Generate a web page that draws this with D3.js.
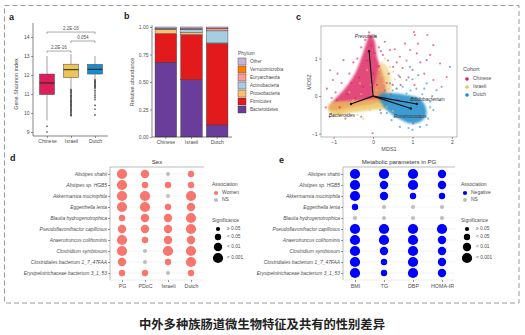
<!DOCTYPE html>
<html><head><meta charset="utf-8">
<script src="https://cdn.jsdelivr.net/npm/d3@7"></script>
<style>body{margin:0;background:#fff}svg{display:block;font-family:"Liberation Sans",Arial,sans-serif}</style>
</head><body><svg id="c" width="525" height="335"></svg>
<script>
// ---------------- DATA ----------------
const cohorts = ["Chinese","Israeli","Dutch"];
const cohortColors = ["#DB1F5B","#EDC45A","#1A8CCB"];
// panel a
const shannonTicks = [9,10,11,12,13,14];
const shannonQ1 = [10.97,11.86,12.05];
const shannonMedian = [11.58,12.28,12.30];
const shannonQ3 = [12.05,12.57,12.56];
const shannonWhiskerLow = [9.6,11.3,11.78];
const shannonWhiskerHigh = [13.0,13.1,13.0];
const outChinese = [9.3,9.0];
const outIsraeli = [11.25,11.2,11.15,11.1,11.05,11.0,10.95,10.9,10.85,10.8,10.75,10.7,10.65,10.6,10.55,10.5,10.45,10.4,10.35,10.3,10.25,10.2,10.15,10.1,10.05,10.0,9.95,9.9,9.85];
const outDutch = [11.75,11.7,11.65,11.6,11.55,11.5,11.45,11.4,11.35,11.3,11.2,11.1,11.0,10.9,10.8,10.7,10.4,10.2,9.9];
const bracketFrom = ["Chinese","Israeli","Chinese"];
const bracketTo = ["Israeli","Dutch","Dutch"];
const bracketLevel = [13.26,13.79,14.26];
const bracketLabel = ["2.2E-16","0.054","2.2E-16"];
// panel b
const phyla = ["Bacteroidetes","Firmicutes","Proteobacteria","Actinobacteria","Euryarchaeota","Verrucomicrobia","Other"];
const phylumColors = ["#6A3D9A","#E31A1C","#FDBF6F","#A6CEE3","#FB9A99","#FF7F00","#CAB2D6"];
const abundChinese = [0.68,0.26,0.035,0.006,0.003,0.002,0.014];
const abundIsraeli = [0.52,0.41,0.018,0.027,0.006,0.004,0.015];
const abundDutch = [0.11,0.74,0.005,0.11,0.02,0.004,0.011];
const abundTicks = [0,0.25,0.5,0.75,1];
// panel c
const mdsXTicks = [-1,0,1,2];
const mdsYTicks = [-1,0,1];
const cloudChinese = [[-0.08,1.64],[0.03,1.5],[0.1,1.05],[0.24,0.6],[0.33,0.2],[0.3,-0.1],[0.0,-0.2],[-0.5,-0.28],[-1.0,-0.38],[-1.12,-0.32],[-1.0,-0.12],[-0.72,0.2],[-0.46,0.6],[-0.27,1.1],[-0.16,1.45]];
const cloudIsraeli = [[-1.1,-0.2],[-0.7,-0.13],[-0.3,-0.1],[0.1,-0.07],[0.35,-0.13],[0.36,-0.3],[0.0,-0.36],[-0.5,-0.43],[-0.95,-0.5],[-1.13,-0.4]];
const cloudIsraeliMid = [[0.0,0.0],[0.08,0.45],[0.2,0.9],[0.35,0.8],[0.46,0.4],[0.4,0.0]];
const cloudDutch = [[0.15,0.03],[0.45,0.08],[0.8,0.04],[1.15,-0.05],[1.32,-0.25],[1.35,-0.5],[1.2,-0.68],[0.95,-0.73],[0.7,-0.62],[0.45,-0.46],[0.25,-0.25]];
const ptsChinese = [[1.04,1.71],[1.06,1.63],[1.38,1.63],[1.14,1.4],[1.53,1.36],[1.7,0.87],[1.11,1.14],[1.36,0.96],[-1.09,0.69],[-1.17,0.2],[-1.02,0.43],[-0.01,-0.99],[0.81,1.4],[0.94,1.23],[0.68,1.05],[1.53,0.43],[1.87,0.51],[1.74,0.25],[0.43,1.23],[0.51,0.78],[-0.75,0.96],[-0.92,-0.11],[1.19,-0.55],[1.02,-0.73],[-0.3,1.3],[-0.4,1.0],[0.15,1.3],[0.25,1.1],[-0.6,0.6],[-0.8,0.35],[0.4,0.6],[0.5,0.3],[-0.2,1.5],[0.05,1.6],[-0.95,0.1],[-1.2,-0.3],[-1.1,-0.55],[-0.7,-0.6],[-0.3,-0.55],[0.6,0.9],[0.3,1.45],[0.55,1.25],[0.75,0.75],[1.2,0.9],[0.2,-0.45],[-0.5,0.9],[0.45,0.05],[0.62,-0.1],[0.9,0.5],[1.05,0.3],[0.7,0.3],[-0.55,0.35],[-0.85,-0.3],[0.35,0.35],[0.15,0.8],[-0.1,1.7],[-0.35,0.5],[-0.65,0.05],[0.2,1.2],[-0.15,0.95],[0.0,0.6],[-0.25,0.25],[0.1,0.3],[-0.45,-0.05],[0.85,0.95],[1.0,0.7],[1.3,0.6],[1.45,1.1],[0.65,0.55],[-0.9,0.6],[-1.05,-0.05],[0.05,1.15],[-0.05,1.35],[0.38,0.95]];
const ptsIsraeli = [[0.43,0.78],[0.51,0.65],[0.26,0.34],[0.09,0.16],[-0.33,0.34],[-0.5,-0.11],[-0.08,-0.37],[-0.25,-0.6],[-0.75,-0.37],[0.35,-0.28],[0.6,0.2],[0.3,1.0],[-0.15,0.7],[-0.6,0.1],[-1.0,-0.55],[-0.4,-0.5],[0.5,-0.4],[0.7,0.5],[0.2,0.55],[-0.05,0.3],[0.15,0.7],[0.32,0.5],[0.55,0.45],[-0.2,-0.3],[-0.85,-0.45],[0.1,-0.25],[0.4,0.2],[-0.3,0.05]];
const ptsDutch = [[1.15,0.56],[0.85,0.43],[1.36,0.34],[1.61,0.16],[1.53,-0.37],[1.36,-0.77],[1.19,-0.82],[0.68,-0.82],[0.47,-0.64],[0.18,-0.37],[0.94,0.78],[0.68,0.51],[0.43,0.34],[0.85,0.07],[1.95,0.78],[1.7,-0.11],[1.45,-0.3],[1.4,-0.6],[1.0,-0.9],[0.6,0.2],[1.1,0.2],[1.25,0.05],[0.3,0.15],[0.55,-0.55],[0.9,-0.85],[1.5,0.0],[0.75,0.25],[1.0,0.45],[1.3,0.2],[0.5,0.15],[0.95,0.15],[1.45,-0.15],[0.35,-0.45]];
const loadNames = ["Prevotella","Bacteroides","Bifidobacterium","Ruminococcus"];
const loadX = [-0.1,-0.56,1.11,0.96];
const loadY = [1.2,-0.21,-0.21,-0.33];
const loadLabelX = [-0.18,-0.79,1.38,0.94];
const loadLabelY = [1.58,-0.51,-0.09,-0.56];
// panels d / e
const species = ["Alistipes shahii","Alistipes sp. HGB5","Akkermansia muciniphila","Eggerthella lenta","Blautia hydrogenotrophica","Pseudoflavonifractor capillosus","Anaerotruncus colihominis","Clostridium symbiosum","Clostridiales bacterium 1_7_47FAA","Erysipelotrichaceae bacterium 3_1_53"];
const sexCols = ["PG","PDoC","Israeli","Dutch"];
// significance level: 0 = NS, 2 = <0.05, 3 = <0.01, 4 = <0.001
const sexPG = [4,4,4,4,2,3,4,4,3,2];
const sexPDoC = [3,2,4,4,3,3,2,0,0,2];
const sexIsraeli = [0,2,0,2,3,3,3,4,2,0];
const sexDutch = [2,2,4,3,4,4,3,4,4,2];
const metCols = ["BMI","TG","DBP","HOMA-IR"];
const metBMI = [4,4,4,2,0,4,4,4,4,4];
const metTG = [4,3,3,0,0,4,4,3,2,2];
const metDBP = [4,4,2,0,0,4,4,4,4,4];
const metHOMA = [3,3,2,0,0,4,3,3,3,3];
const sigLabels = ["\u2265 0.05","< 0.05","< 0.01","< 0.001"];
const sigLevels = [1,2,3,4];

// ---------------- DRAW ----------------
const svg = d3.select("#c");
const TXT = "#4d4d4d";
const FF = "Liberation Sans, Arial, sans-serif";
function styleAxis(g, fs){
  g.selectAll("text").attr("font-size",fs).attr("fill",TXT).attr("font-family",FF);
  g.selectAll(".tick line").attr("stroke","#333").attr("stroke-width",0.5);
  g.select(".domain").remove();
}
function txt(x,y,s,fs,opt={}){
  return svg.append("text").attr("x",x).attr("y",y).text(s).attr("font-size",fs)
    .attr("fill",opt.fill||TXT).attr("text-anchor",opt.anchor||"start")
    .attr("font-style",opt.italic?"italic":"normal").attr("font-weight",opt.bold?"bold":"normal")
    .attr("dominant-baseline",opt.base||"auto");
}
// dashed frame
svg.append("rect").attr("x",4.5).attr("y",5.5).attr("width",514.5).attr("height",297.5)
  .attr("fill","none").attr("stroke","#9a9a9a").attr("stroke-width",1).attr("stroke-dasharray","5,3");
// panel letters
[["a",9,20],["b",124,19],["c",296,20],["d",10,161],["e",279,163]].forEach(d=>txt(d[1],d[2],d[0],9,{fill:"#222",bold:true}));

// ---- panel a ----
const yA = d3.scaleLinear().domain([9,14]).range([132,37]);
const xA = d3.scalePoint().domain(cohorts).range([47,95]);
const axA = svg.append("g").attr("transform","translate(33,0)").call(d3.axisLeft(yA).tickValues(shannonTicks).tickFormat(d3.format("d")).tickSize(2).tickPadding(1.5));
styleAxis(axA,5);
const axAx = svg.append("g").attr("transform","translate(0,136)").call(d3.axisBottom(xA).tickSize(2).tickPadding(1.5));
styleAxis(axAx,5);
svg.append("line").attr("x1",33).attr("x2",33).attr("y1",23).attr("y2",136).attr("stroke","#333").attr("stroke-width",0.6);
svg.append("line").attr("x1",33).attr("x2",108).attr("y1",136).attr("y2",136).attr("stroke","#333").attr("stroke-width",0.6);
svg.append("text").attr("transform","translate(18,84) rotate(-90)").attr("text-anchor","middle").attr("font-size",5.5).attr("fill",TXT).text("Gene Shannon index");
const outs = [outChinese,outIsraeli,outDutch];
cohorts.forEach((c,i)=>{
  const cx = xA(c), w = 15;
  svg.append("line").attr("x1",cx).attr("x2",cx).attr("y1",yA(shannonWhiskerHigh[i])).attr("y2",yA(shannonWhiskerLow[i])).attr("stroke","#444").attr("stroke-width",0.5);
  svg.append("rect").attr("x",cx-w/2).attr("width",w).attr("y",yA(shannonQ3[i])).attr("height",yA(shannonQ1[i])-yA(shannonQ3[i]))
    .attr("fill",cohortColors[i]).attr("stroke","#444").attr("stroke-width",0.5);
  svg.append("line").attr("x1",cx-w/2).attr("x2",cx+w/2).attr("y1",yA(shannonMedian[i])).attr("y2",yA(shannonMedian[i])).attr("stroke","#222").attr("stroke-width",1);
  svg.selectAll(null).data(outs[i]).enter().append("circle").attr("cx",cx).attr("cy",d=>yA(d)).attr("r",0.8).attr("fill","#333");
});
bracketLevel.forEach((lv,i)=>{
  const x1 = xA(bracketFrom[i]), x2 = xA(bracketTo[i]), y = yA(lv);
  svg.append("path").attr("d",`M${x1},${y+2}V${y}H${x2}V${y+2}`).attr("fill","none").attr("stroke","#555").attr("stroke-width",0.5);
  txt((x1+x2)/2,y-2,bracketLabel[i],4.5,{anchor:"middle"});
});

// ---- panel b ----
const yB = d3.scaleLinear().domain([0,1]).range([137,27]);
const xB = d3.scaleBand().domain(cohorts).range([153,230]).paddingInner(0.16).paddingOuter(0.08);
const abundRows = [abundChinese,abundIsraeli,abundDutch].map((arr,i)=>{const o={cohort:cohorts[i]}; phyla.forEach((p,j)=>o[p]=arr[j]); return o;});
const stackB = d3.stack().keys(phyla)(abundRows);
stackB.forEach((layer,k)=>{
  svg.selectAll(null).data(layer).enter().append("rect")
    .attr("x",d=>xB(d.data.cohort)).attr("width",xB.bandwidth())
    .attr("y",d=>yB(d[1])).attr("height",d=>yB(d[0])-yB(d[1]))
    .attr("fill",phylumColors[k]).attr("stroke","#333").attr("stroke-width",0.4);
});
const axB = svg.append("g").attr("transform","translate(152,0)").call(d3.axisLeft(yB).tickValues(abundTicks).tickFormat(d3.format(".2f")).tickSize(2).tickPadding(1.5));
styleAxis(axB,5);
const axBx = svg.append("g").attr("transform","translate(0,137)").call(d3.axisBottom(xB).tickSize(2).tickPadding(1.5));
styleAxis(axBx,5);
svg.append("line").attr("x1",152).attr("x2",152).attr("y1",25).attr("y2",137).attr("stroke","#333").attr("stroke-width",0.6);
svg.append("line").attr("x1",152).attr("x2",232).attr("y1",137).attr("y2",137).attr("stroke","#333").attr("stroke-width",0.6);
svg.append("text").attr("transform","translate(134,82) rotate(-90)").attr("text-anchor","middle").attr("font-size",5.5).attr("fill",TXT).text("Relative abundance");
txt(238,55,"Phylum",5,{});
phyla.slice().reverse().forEach((p,i)=>{
  const k = phyla.indexOf(p);
  svg.append("rect").attr("x",238).attr("y",58+i*8).attr("width",8).attr("height",7).attr("fill",phylumColors[k]).attr("stroke","#333").attr("stroke-width",0.4);
  txt(250,61.5+i*8,p,4.6,{base:"middle"});
});

// ---- panel c ----
const xC = d3.scaleLinear().domain([-1.32,2.13]).range([321,457]);
const yC = d3.scaleLinear().domain([-1.09,1.87]).range([137,26]);
const defs = svg.append("defs");
defs.append("filter").attr("id","blur").attr("x","-20%").attr("y","-20%").attr("width","140%").attr("height","140%")
  .append("feGaussianBlur").attr("stdDeviation",1.2);
defs.append("clipPath").attr("id","clipC").append("rect").attr("x",321).attr("y",26).attr("width",136).attr("height",111);
const gC = svg.append("g").attr("clip-path","url(#clipC)");
const lineC = d3.line().x(d=>xC(d[0])).y(d=>yC(d[1])).curve(d3.curveCatmullRomClosed);
gC.append("path").attr("d",lineC(cloudChinese)).attr("fill",cohortColors[0]).attr("opacity",0.8).attr("filter","url(#blur)");
gC.append("path").attr("d",lineC(cloudIsraeliMid)).attr("fill",cohortColors[1]).attr("opacity",0.55).attr("filter","url(#blur)");
gC.append("path").attr("d",lineC(cloudIsraeli)).attr("fill",cohortColors[1]).attr("opacity",0.8).attr("filter","url(#blur)");
gC.append("path").attr("d",lineC(cloudDutch)).attr("fill",cohortColors[2]).attr("opacity",0.85).attr("filter","url(#blur)");
[[ptsChinese,0],[ptsIsraeli,1],[ptsDutch,2]].forEach(([pts,k])=>{
  gC.selectAll(null).data(pts).enter().append("circle").attr("cx",d=>xC(d[0])).attr("cy",d=>yC(d[1])).attr("r",1.1)
    .attr("fill",cohortColors[k]).attr("opacity",0.6);
});
loadNames.forEach((n,i)=>{
  gC.append("line").attr("x1",xC(0)).attr("y1",yC(0)).attr("x2",xC(loadX[i])).attr("y2",yC(loadY[i])).attr("stroke","#111").attr("stroke-width",1.1);
  gC.append("circle").attr("cx",xC(loadX[i])).attr("cy",yC(loadY[i])).attr("r",1.2).attr("fill","#111");
  gC.append("text").attr("x",xC(loadLabelX[i])).attr("y",yC(loadLabelY[i])).attr("text-anchor","middle").attr("dominant-baseline","middle")
    .attr("font-size",5).attr("font-style","italic").attr("fill","#333").text(n);
});
svg.append("rect").attr("x",321).attr("y",26).attr("width",136).attr("height",111).attr("fill","none").attr("stroke","#aaa").attr("stroke-width",0.8);
const axCx = svg.append("g").attr("transform","translate(0,137)").call(d3.axisBottom(xC).tickValues(mdsXTicks).tickSize(2).tickPadding(1.5).tickFormat(d3.format("d")));
styleAxis(axCx,5);
const axCy = svg.append("g").attr("transform","translate(321,0)").call(d3.axisLeft(yC).tickValues(mdsYTicks).tickSize(2).tickPadding(1.5).tickFormat(d3.format("d")));
styleAxis(axCy,5);
txt(389,151,"MDS1",5.5,{anchor:"middle"});
svg.append("text").attr("transform","translate(311,82) rotate(-90)").attr("text-anchor","middle").attr("font-size",5.5).attr("fill",TXT).text("MDS2");
txt(463,71,"Cohort",5.5,{});
cohorts.forEach((c,i)=>{
  svg.append("circle").attr("cx",467).attr("cy",79+i*8).attr("r",1.8).attr("fill",cohortColors[i]);
  txt(473,79+i*8,c,5,{base:"middle"});
});

// ---- panels d & e ----
const rScale = d3.scaleOrdinal().domain([0,1,2,3,4]).range([2.1,2.1,3.2,4.2,5.1]);
function dotPanel(x0,x1,cols,values,color,title){
  const xs = d3.scalePoint().domain(cols).range([x0+12,x1-13]);
  const ys = d3.scalePoint().domain(species).range([174,273]);
  species.forEach(s=>svg.append("line").attr("x1",x0).attr("x2",x1).attr("y1",ys(s)).attr("y2",ys(s)).attr("stroke","#ececec").attr("stroke-width",0.6));
  cols.forEach(c=>svg.append("line").attr("x1",xs(c)).attr("x2",xs(c)).attr("y1",167).attr("y2",280).attr("stroke","#f2f2f2").attr("stroke-width",0.6));
  svg.append("line").attr("x1",x0).attr("x2",x1).attr("y1",167).attr("y2",167).attr("stroke","#aaa").attr("stroke-width",0.8);
  svg.append("line").attr("x1",x0).attr("x2",x0).attr("y1",167).attr("y2",280).attr("stroke","#aaa").attr("stroke-width",0.8);
  svg.append("line").attr("x1",x0).attr("x2",x1).attr("y1",280).attr("y2",280).attr("stroke","#ddd").attr("stroke-width",0.6);
  txt((x0+x1)/2,164,title,6,{anchor:"middle",fill:"#333"});
  const axY = svg.append("g").attr("transform",`translate(${x0},0)`).call(d3.axisLeft(ys).tickSize(2).tickPadding(1));
  styleAxis(axY,4.9); axY.selectAll("text").attr("font-style","italic");
  const axX = svg.append("g").attr("transform","translate(0,280)").call(d3.axisBottom(xs).tickSize(2).tickPadding(2));
  styleAxis(axX,5.3);
  cols.forEach((c,j)=>{
    svg.selectAll(null).data(values[j]).enter().append("circle")
      .attr("cx",xs(c)).attr("cy",(d,i)=>ys(species[i])).attr("r",d=>rScale(d))
      .attr("fill",d=>d===0?"#BEBEBE":color);
  });
}
dotPanel(110,204,sexCols,[sexPG,sexPDoC,sexIsraeli,sexDutch],"#F8766D","Sex");
dotPanel(343,455,metCols,[metBMI,metTG,metDBP,metHOMA],"#0000FF","Metabolic parameters in PG");
function legendDE(x,assocLabel,color){
  txt(x,186,"Association",5,{});
  svg.append("circle").attr("cx",x+4).attr("cy",193).attr("r",2.1).attr("fill",color);
  txt(x+10,193,assocLabel,5,{base:"middle"});
  svg.append("circle").attr("cx",x+4).attr("cy",200).attr("r",2.1).attr("fill","#BEBEBE");
  txt(x+10,200,"NS",5,{base:"middle"});
  txt(x,222,"Significance",5,{});
  const ly = [229,237,247,258];
  sigLevels.forEach((lv,i)=>{
    svg.append("circle").attr("cx",x+6).attr("cy",ly[i]).attr("r",rScale(lv)).attr("fill","#000");
    txt(x+15,ly[i],sigLabels[i],4.8,{base:"middle"});
  });
}
legendDE(212,"Women","#F8766D");
legendDE(461,"Negative","#0000FF");

// ---- caption ----
svg.append("text").attr("x",262).attr("y",329).attr("text-anchor","middle").attr("font-size",12.3)
  .attr("font-family","Noto Sans CJK SC").attr("font-weight","bold").attr("fill","#222")
  .text("中外多种族肠道微生物特征及共有的性别差异");
</script></body></html>
